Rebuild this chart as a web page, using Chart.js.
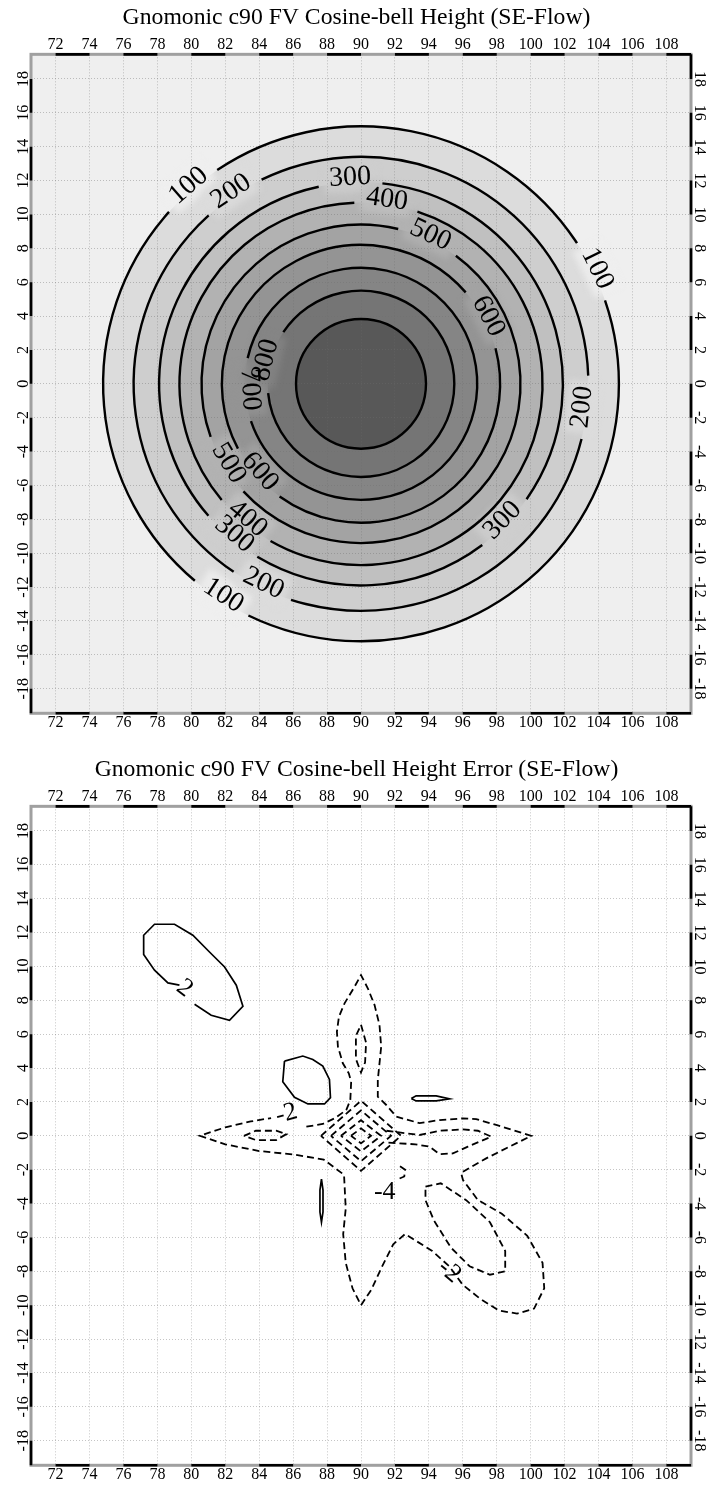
<!DOCTYPE html>
<html>
<head>
<meta charset="utf-8">
<title>Gnomonic c90 FV Cosine-bell</title>
<script src="https://cdn.jsdelivr.net/npm/chart.js@4.4.1/dist/chart.umd.min.js"></script>
<style>
  html, body { margin: 0; padding: 0; background: #ffffff; }
  #page { position: relative; width: 713px; height: 1485px; overflow: hidden; }
  #page canvas { position: absolute; left: 0; }
  #heightChart { top: 0; }
  #errorChart { top: 752px; }
</style>
</head>
<body>
<div id="page">
  <canvas id="heightChart" width="713" height="742"></canvas>
  <canvas id="errorChart" width="713" height="733"></canvas>
</div>
<script>
const SERIF = "'Liberation Serif', 'Times New Roman', 'DejaVu Serif', serif";

// ---- axes -------------------------------------------------------------
const xTickValues = [72, 74, 76, 78, 80, 82, 84, 86, 88, 90, 92, 94, 96, 98, 100, 102, 104, 106, 108];
const yTickValues = [-18, -16, -14, -12, -10, -8, -6, -4, -2, 0, 2, 4, 6, 8, 10, 12, 14, 16, 18];
const xLimits = [70.55, 109.45];
const yLimits = [-19.45, 19.45];

// ---- cosine-bell height: contour levels and radii (grid units) ---------
const bellCentre = [90, 0];
const heightLevels = [100, 200, 300, 400, 500, 600, 700, 800, 900];
const heightRadii = [15.2, 13.4, 11.9, 10.7, 9.4, 8.2, 6.85, 5.5, 3.83];
const heightShades = ['#dcdcdc', '#cecece', '#c0c0c0', '#b2b2b2', '#a3a3a3', '#949494', '#858585', '#757575', '#585858'];
const outsideShade = '#efefef';
// label placement: contour level and angle round the centre (deg, clockwise from east)
const heightLabelLevels = [100, 100, 100, 200, 200, 200, 300, 300, 300, 400, 400, 500, 500, 600, 600, 700, 800];
const heightLabelAngles = [-131, -26, 123, -124, 6, 116, -93, 44, 130, -82, 130, -65, 149, -28, 139, 177, -166];

// ---- height error contours (x, y) --------------------------------------
const errPosNorthWest = [[79.3, 8.9], [78.62, 9.03], [77.83, 9.78], [77.19, 10.70], [77.19, 11.84], [77.83, 12.49],
  [79.01, 12.49], [80.09, 11.84], [81.07, 10.85], [81.96, 9.97], [82.65, 8.89], [83.04, 7.65], [82.25, 6.82],
  [81.17, 7.12], [80.19, 7.77]];
const errPosBlob = [[85.49, 4.41], [86.57, 4.71], [87.16, 4.51], [87.75, 4.12], [88.14, 3.33], [88.2, 2.25],
  [87.85, 1.88], [86.87, 1.88], [86.08, 2.27], [85.39, 3.19], [85.49, 4.41]];
const errPosSliver = [[92.96, 2.2], [93.25, 2.36], [94.43, 2.36], [95.22, 2.18], [94.43, 2.06], [93.25, 2.06], [92.96, 2.2]];
const errPosNeedle = [[87.67, -2.55], [87.76, -3.2], [87.76, -4.5], [87.67, -5.1], [87.58, -4.5], [87.58, -3.2], [87.67, -2.55]];

const errNegOuter = [[86.78, 0.54], [87.75, 0.70], [88.44, 1.03], [89.13, 1.52], [89.37, 2.11], [89.42, 3.19], [89.28, 3.69],
  [88.93, 4.28], [88.64, 5.26], [88.58, 6.15], [88.70, 7.03], [89.03, 7.82], [89.62, 8.80], [90.0, 9.49], [90.40, 8.71],
  [90.80, 7.72], [91.09, 6.54], [91.19, 5.26], [91.09, 4.28], [90.99, 3.29], [90.99, 2.31], [91.49, 1.82], [92.08, 1.13],
  [93.45, 0.75], [94.63, 0.93], [96.0, 1.03], [96.79, 0.99], [97.97, 0.64], [100.04, 0.0], [98.75, -0.64], [97.38, -1.33],
  [96.01, -2.12], [95.9, -2.2], [96.01, -2.61], [96.59, -3.39], [96.89, -3.79], [98.3, -4.6], [99.8, -5.9], [100.7, -7.5],
  [100.8, -9.0], [100.2, -10.2], [99.2, -10.5], [98.1, -10.3], [97.0, -9.6], [96.0, -8.8], [95.2, -7.7], [94.2, -6.8],
  [92.6, -5.8], [91.9, -6.4], [91.2, -7.8], [90.6, -9.1], [90.0, -10.0], [89.5, -9.0], [89.1, -7.5], [88.95, -5.8],
  [89.1, -4.3], [89.0, -2.3], [87.8, -1.4], [86.0, -1.1], [84.0, -0.9], [82.0, -0.5], [80.5, 0.0], [82.0, 0.5], [83.5, 0.85],
  [84.7, 1.05]];
const errNegNorthInner = [[90.0, 6.55], [90.3, 5.5], [90.24, 4.33], [90.0, 3.74], [89.7, 4.53], [89.7, 5.9], [90.0, 6.55]];
const errNegEastInner = [[91.5, 0.3], [93.45, 0.05], [94.63, 0.30], [96.0, 0.38], [96.89, 0.30], [97.68, -0.05], [96.3, -0.64],
  [95.42, -1.04], [94.63, -1.08], [94.04, -0.64], [93.2, -0.5], [91.5, -0.4]];
const errNegWestInner = [[83.1, 0.0], [83.8, 0.3], [85.0, 0.3], [85.6, 0.1], [85.0, -0.25], [83.8, -0.25], [83.1, 0.0]];
const errNegSouthEast = [[93.8, -3.0], [94.7, -2.8], [96.2, -3.8], [97.6, -5.1], [98.5, -6.8], [98.5, -8.0], [97.6, -8.2],
  [96.4, -7.7], [95.3, -6.6], [94.3, -5.0], [93.8, -3.8], [93.8, -3.0]];
const errNegSmall = [[92.3, -1.8], [92.6, -2.0], [92.55, -2.4], [92.2, -2.55]];
const errNegDiamonds = [
  [[87.64, 0], [90, 2.07], [92.36, 0], [90, -2.07], [87.64, 0]],
  [[88.23, 0], [90, 1.5], [91.77, 0], [90, -1.5], [88.23, 0]],
  [[88.82, 0], [90, 0.92], [91.18, 0], [90, -0.92], [88.82, 0]],
  [[89.41, 0], [90, 0.44], [90.59, 0], [90, -0.44], [89.41, 0]]
];
const errLabelText = ['2', '-2', '-4', '-2'];
const errLabelX = [79.6, 85.6, 91.4, 95.2];
const errLabelY = [8.7, 1.3, -3.3, -8.0];
const errLabelRot = [38, -15, 0, 40];

// ---- helpers ---------------------------------------------------------
const tickFont = { family: SERIF, size: 16 };

function tickScale(position, axis, extra) {
  const horizontal = axis === 'x';
  const values = horizontal ? xTickValues : yTickValues;
  const lim = horizontal ? xLimits : yLimits;
  return Object.assign({
    type: 'linear', axis, position, min: lim[0], max: lim[1],
    afterBuildTicks: s => { s.ticks = values.map(v => ({ value: v })); },
    grid: { drawTicks: false, drawOnChartArea: false },
    border: { display: false }
  }, extra);
}

function scalesFor(bottomHeight, gridColor) {
  const grid = { color: gridColor, lineWidth: 1, drawTicks: false, drawOnChartArea: true };
  const dotted = { display: false, dash: [1, 2] };
  return {
    x: tickScale('bottom', 'x', { grid, border: dotted, afterFit: s => { s.height = bottomHeight; },
      ticks: { font: tickFont, color: '#000', padding: 0, autoSkip: false, maxRotation: 0 } }),
    xTop: tickScale('top', 'x', { afterFit: s => { s.height = 21.9; },
      ticks: { font: tickFont, color: '#000', padding: 0, autoSkip: false, maxRotation: 0 } }),
    y: tickScale('left', 'y', { grid, border: dotted, afterFit: s => { s.width = 31; },
      ticks: { font: tickFont, color: '#000', padding: -3.2, autoSkip: false,
        minRotation: 90, maxRotation: 90, crossAlign: 'center' } }),
    yRight: tickScale('right', 'y', { afterFit: s => { s.width = 22; },
      ticks: { font: tickFont, color: '#000', padding: -2.2, autoSkip: false,
        minRotation: -90, maxRotation: -90, crossAlign: 'center' } })
  };
}

// page + plot background
const backdrop = {
  id: 'backdrop',
  beforeDraw(chart, args, opts) {
    const { ctx, chartArea: a } = chart;
    ctx.save();
    ctx.fillStyle = '#ffffff';
    ctx.fillRect(0, 0, chart.width, chart.height);
    ctx.fillStyle = opts.plot;
    ctx.fillRect(a.left, a.top, a.right - a.left, a.bottom - a.top);
    ctx.restore();
  }
};

// map-style border: grey frame with alternating black bars between ticks
const mapFrame = {
  id: 'mapFrame',
  afterDraw(chart) {
    const { ctx, chartArea: a, scales: { x, y } } = chart;
    ctx.save();
    ctx.strokeStyle = '#a0a0a0';
    ctx.lineWidth = 3;
    ctx.strokeRect(a.left, a.top, a.right - a.left, a.bottom - a.top);
    const xs = [a.left].concat(xTickValues.map(v => x.getPixelForValue(v)), [a.right]);
    const ysUp = [a.bottom].concat(yTickValues.map(v => y.getPixelForValue(v)), [a.top]);
    ctx.strokeStyle = '#000';
    ctx.lineWidth = 2.6;
    ctx.beginPath();
    for (let i = 1; i < xs.length - 1; i += 2) {
      ctx.moveTo(xs[i], a.top); ctx.lineTo(xs[i + 1], a.top);
      ctx.moveTo(xs[i], a.bottom); ctx.lineTo(xs[i + 1], a.bottom);
    }
    for (let i = 0; i < ysUp.length - 1; i += 2) {
      ctx.moveTo(a.left, ysUp[i]); ctx.lineTo(a.left, ysUp[i + 1]);
    }
    for (let i = 1; i < ysUp.length - 1; i += 2) {
      ctx.moveTo(a.right, ysUp[i]); ctx.lineTo(a.right, ysUp[i + 1]);
    }
    ctx.stroke();
    ctx.restore();
  }
};

function ringGeometry(chart) {
  const { x, y } = chart.scales;
  const cx = x.getPixelForValue(bellCentre[0]);
  const cy = y.getPixelForValue(bellCentre[1]);
  const rings = heightRadii.map(r => ({
    rx: Math.abs(x.getPixelForValue(bellCentre[0] + r) - cx),
    ry: Math.abs(y.getPixelForValue(bellCentre[1] + r) - cy)
  }));
  return { cx, cy, rings };
}

// keep label text upright
function uprightAngle(deg) {
  let r = deg + 90;
  while (r > 90) r -= 180;
  while (r <= -90) r += 180;
  return r;
}

function labelAnchor(geo, k) {
  const g = geo.rings[heightLevels.indexOf(heightLabelLevels[k])];
  const a = heightLabelAngles[k] * Math.PI / 180;
  return { x: geo.cx + g.rx * Math.cos(a), y: geo.cy + g.ry * Math.sin(a), rot: uprightAngle(heightLabelAngles[k]) * Math.PI / 180 };
}

// shaded bands between height contours, with soft label boxes
const bellBands = {
  id: 'bellBands',
  beforeDraw(chart) {
    const { ctx, chartArea: a } = chart;
    const geo = ringGeometry(chart);
    ctx.save();
    ctx.beginPath();
    ctx.rect(a.left, a.top, a.right - a.left, a.bottom - a.top);
    ctx.clip();
    geo.rings.forEach((g, i) => {
      ctx.fillStyle = heightShades[i];
      ctx.beginPath();
      ctx.ellipse(geo.cx, geo.cy, g.rx, g.ry, 0, 0, Math.PI * 2);
      ctx.fill();
    });
    ctx.font = '28px ' + SERIF;
    ctx.filter = 'blur(3px)';
    heightLabelLevels.forEach((lv, k) => {
      const i = heightLevels.indexOf(lv);
      const p = labelAnchor(geo, k);
      const w = ctx.measureText(String(lv)).width + 10;
      ctx.save();
      ctx.translate(p.x, p.y);
      ctx.rotate(p.rot);
      ctx.globalAlpha = 0.8;
      ctx.fillStyle = i === 0 ? outsideShade : heightShades[i - 1];
      ctx.fillRect(-w / 2, -21, w, 31);
      ctx.restore();
    });
    ctx.restore();
  }
};

// contour lines with labelled gaps
const bellContours = {
  id: 'bellContours',
  afterDatasetsDraw(chart) {
    const { ctx } = chart;
    const geo = ringGeometry(chart);
    const { cx, cy, rings } = geo;
    ctx.save();
    ctx.font = '28px ' + SERIF;
    rings.forEach((g, i) => {
      const level = heightLevels[i];
      const gaps = [];
      heightLabelLevels.forEach((lv, k) => {
        if (lv !== level) return;
        const a = heightLabelAngles[k] * Math.PI / 180;
        const w = ctx.measureText(String(lv)).width + 22;
        const half = (w / 2) / ((g.rx + g.ry) / 2);
        gaps.push([a - half, a + half]);
      });
      ctx.strokeStyle = '#000';
      ctx.lineWidth = 2.4;
      ctx.beginPath();
      if (!gaps.length) {
        ctx.ellipse(cx, cy, g.rx, g.ry, 0, 0, Math.PI * 2);
      } else {
        gaps.sort((p, q) => p[0] - q[0]);
        for (let j = 0; j < gaps.length; j++) {
          const start = gaps[j][1];
          const end = j + 1 < gaps.length ? gaps[j + 1][0] : gaps[0][0] + Math.PI * 2;
          ctx.moveTo(cx + g.rx * Math.cos(start), cy + g.ry * Math.sin(start));
          ctx.ellipse(cx, cy, g.rx, g.ry, 0, start, end);
        }
      }
      ctx.stroke();
    });
    ctx.fillStyle = '#000';
    ctx.textAlign = 'center';
    ctx.textBaseline = 'middle';
    heightLabelLevels.forEach((lv, k) => {
      const p = labelAnchor(geo, k);
      ctx.save();
      ctx.translate(p.x, p.y);
      ctx.rotate(p.rot);
      ctx.fillText(String(lv), 0, -5);
      ctx.restore();
    });
    ctx.restore();
  }
};

// contour labels for the error field
const errorLabels = {
  id: 'errorLabels',
  afterDatasetsDraw(chart) {
    const { ctx, scales: { x, y } } = chart;
    ctx.save();
    ctx.font = '26px ' + SERIF;
    ctx.fillStyle = '#000';
    ctx.textAlign = 'center';
    ctx.textBaseline = 'middle';
    errLabelText.forEach((t, i) => {
      ctx.save();
      ctx.translate(x.getPixelForValue(errLabelX[i]), y.getPixelForValue(errLabelY[i]));
      ctx.rotate(errLabelRot[i] * Math.PI / 180);
      ctx.fillText(t, 0, 0);
      ctx.restore();
    });
    ctx.restore();
  }
};

function titleOpts(text) {
  return { display: true, text, color: '#000', font: { family: SERIF, size: 23.7, weight: 'normal' }, padding: { top: 4, bottom: 0 } };
}

// ---- height chart ------------------------------------------------------
new Chart(document.getElementById('heightChart'), {
  type: 'scatter',
  data: { datasets: [] },
  options: {
    responsive: false, animation: false, devicePixelRatio: 1,
    layout: { padding: 0 },
    scales: scalesFor(742 - 713.3, 'rgba(110,110,110,0.40)'),
    plugins: { legend: { display: false }, tooltip: { enabled: false }, title: titleOpts('Gnomonic c90 FV Cosine-bell Height (SE-Flow)'),
      backdrop: { plot: outsideShade } }
  },
  plugins: [backdrop, bellBands, bellContours, mapFrame]
});

// ---- height error chart ---------------------------------------------------
function contourSet(points, dashed) {
  return {
    data: points.map(([x, y]) => ({ x, y })),
    showLine: true, tension: 0, fill: false,
    borderColor: '#000', borderWidth: dashed ? 1.8 : 1.7,
    borderDash: dashed ? [7, 4] : [],
    pointRadius: 0, pointHoverRadius: 0
  };
}

new Chart(document.getElementById('errorChart'), {
  type: 'scatter',
  data: {
    datasets: [
      contourSet(errPosNorthWest, false),
      contourSet(errPosBlob, false),
      contourSet(errPosSliver, false),
      contourSet(errPosNeedle, false),
      contourSet(errNegOuter, true),
      contourSet(errNegNorthInner, true),
      contourSet(errNegEastInner, true),
      contourSet(errNegWestInner, true),
      contourSet(errNegSouthEast, true),
      contourSet(errNegSmall, true)
    ].concat(errNegDiamonds.map(d => contourSet(d, true)))
  },
  options: {
    responsive: false, animation: false, devicePixelRatio: 1,
    layout: { padding: 0 },
    scales: scalesFor(733 - 713.3, 'rgba(110,110,110,0.40)'),
    plugins: { legend: { display: false }, tooltip: { enabled: false }, title: titleOpts('Gnomonic c90 FV Cosine-bell Height Error (SE-Flow)'),
      backdrop: { plot: '#ffffff' } }
  },
  plugins: [backdrop, errorLabels, mapFrame]
});
</script>
</body>
</html>
